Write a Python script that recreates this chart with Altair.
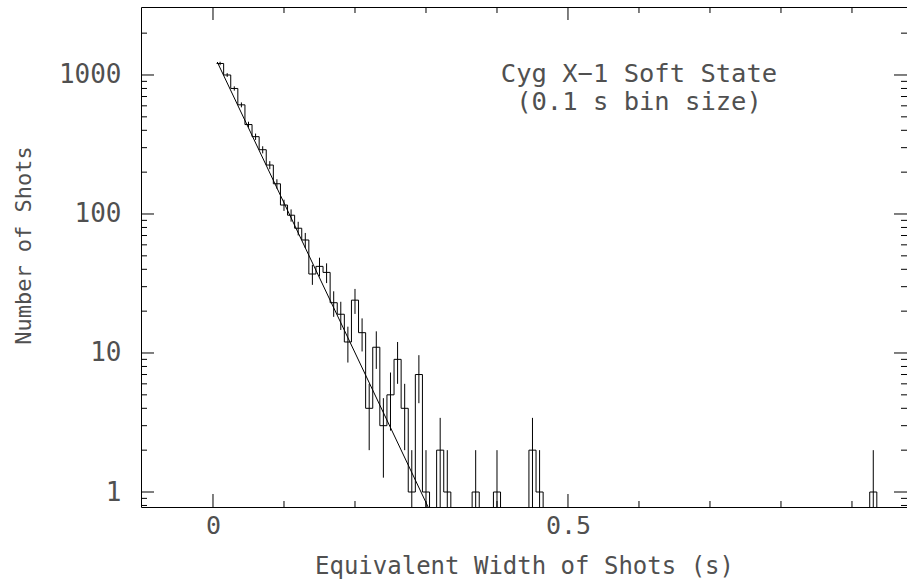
import math
import altair as alt
import pandas as pd

# ---------------- data ----------------
bin_width = 0.01
bin_centers = [0.01, 0.02, 0.03, 0.04, 0.05, 0.06, 0.07, 0.08, 0.09, 0.10,
               0.11, 0.12, 0.13, 0.14, 0.15, 0.16, 0.17, 0.18, 0.19, 0.20,
               0.21, 0.22, 0.23, 0.24, 0.25, 0.26, 0.27, 0.28, 0.29, 0.30,
               0.32, 0.33, 0.37, 0.40, 0.45, 0.46, 0.93]
bin_counts = [1210, 1000, 800, 610, 440, 360, 290, 225, 165, 116,
              98, 79, 65, 37, 42, 38, 23, 19, 12, 24,
              14, 4, 11, 3, 5, 9, 4, 1, 7, 1,
              2, 1, 1, 1, 2, 1, 1]

fit_x = [0.006, 0.303]
fit_y = [1240, 0.78]

x_major = [0.0, 0.5]
x_minor = [0.1, 0.2, 0.3, 0.4, 0.6, 0.7, 0.8, 0.9]
y_major = [1, 10, 100, 1000]
y_minor = [0.8, 0.9, 2, 3, 4, 5, 6, 7, 8, 9, 20, 30, 40, 50, 60, 70, 80, 90,
           200, 300, 400, 500, 600, 700, 800, 900, 2000]

label_lines = ["Cyg X\u22121 Soft State", "(0.1 s bin size)"]
label_x = [0.6, 0.6]
label_y = [1016, 640]

# ---------------- layout ----------------
W, H = 766, 500
FLOOR = 0.3          # zero-count bins fall below the axis and are clipped
MAJ, MIN = 13, 6     # tick lengths (pixels, pointing inward)
FONT = "DejaVu Sans Mono"
TXT = "#505050"

# ---------------- tables ----------------
pts = []
prev_hi = None
for c, n in zip(bin_centers, bin_counts):
    lo, hi = c - bin_width / 2, c + bin_width / 2
    if prev_hi is not None and abs(lo - prev_hi) > 1e-9:
        pts += [(prev_hi, FLOOR), (lo, FLOOR)]
    pts += [(lo, n), (hi, n)]
    prev_hi = hi
pts.append((prev_hi, FLOOR))
step_df = pd.DataFrame({"x": [p[0] for p in pts], "y": [p[1] for p in pts],
                        "i": list(range(len(pts)))})

err_df = pd.DataFrame({
    "x": bin_centers,
    "y": [max(n - math.sqrt(n), FLOOR) for n in bin_counts],
    "y2": [n + math.sqrt(n) for n in bin_counts],
})
fit_df = pd.DataFrame({"x": fit_x, "y": fit_y})
txt_df = pd.DataFrame({"x": label_x, "y": label_y, "t": label_lines})

XS = alt.Scale(domain=[-0.1014, 0.9775], nice=False, zero=False)
YS = alt.Scale(type="log", domain=[0.78, 3084], nice=False)

XAX = alt.Axis(values=x_major, format="~g", ticks=False, tickSize=0, domain=False,
               grid=False, labelFontSize=25, labelPadding=6, labelColor=TXT,
               labelFont=FONT, titleFont=FONT, titleFontSize=24,
               titleFontWeight="normal", titleColor=TXT, titleBaseline="middle",
               titleY=59)
YAX = alt.Axis(values=y_major, format="d", ticks=False, tickSize=0, domain=False,
               grid=False, labelFontSize=26, labelPadding=20, labelColor=TXT,
               labelFont=FONT, titleFont=FONT, titleFontSize=22,
               titleFontWeight="normal", titleColor=TXT, titleBaseline="middle",
               titleAlign="center", titleAngle=270, titleX=-118, titleY=238)


def X(field="x"):
    return alt.X(f"{field}:Q", scale=XS, axis=XAX, title="Equivalent Width of Shots (s)")


def Y(field="y"):
    return alt.Y(f"{field}:Q", scale=YS, axis=YAX, title="Number of Shots")


step = alt.Chart(step_df).mark_line(color="black", strokeWidth=1, clip=True).encode(
    x=X(), y=Y(), order="i:Q")
err = alt.Chart(err_df).mark_rule(color="black", strokeWidth=1, clip=True).encode(
    x=X(), y=Y(), y2="y2:Q")
fit = alt.Chart(fit_df).mark_line(color="black", strokeWidth=1, clip=True).encode(
    x=X(), y=Y())
txt = alt.Chart(txt_df).mark_text(font=FONT, fontSize=25.5, color=TXT,
                                  align="center", baseline="middle").encode(
    x=X(), y=Y(), text="t:N")

xmaj = pd.DataFrame({"x": x_major})
xmin = pd.DataFrame({"x": x_minor})
ymaj = pd.DataFrame({"y": y_major})
ymin = pd.DataFrame({"y": y_minor})

tick_layers = []
for df, L in ((xmaj, MAJ), (xmin, MIN)):
    tick_layers.append(alt.Chart(df).mark_rule(color="black", strokeWidth=1).encode(
        x=X(), y=alt.value(H), y2=alt.value(H - L)))
    tick_layers.append(alt.Chart(df).mark_rule(color="black", strokeWidth=1).encode(
        x=X(), y=alt.value(0), y2=alt.value(L)))
for df, L in ((ymaj, MAJ), (ymin, MIN)):
    tick_layers.append(alt.Chart(df).mark_rule(color="black", strokeWidth=1).encode(
        y=Y(), x=alt.value(0), x2=alt.value(L)))
    tick_layers.append(alt.Chart(df).mark_rule(color="black", strokeWidth=1).encode(
        y=Y(), x=alt.value(W), x2=alt.value(W - L)))

chart = alt.layer(step, err, fit, txt, *tick_layers).properties(
    width=W, height=H,
    autosize=alt.AutoSizeParams(type="none"),
    padding={"left": 141, "top": 7, "right": 0, "bottom": 73},
    background="white",
).configure_view(stroke="black", strokeWidth=1)

chart.save("out.html", embed_options={"renderer": "svg", "actions": False})
